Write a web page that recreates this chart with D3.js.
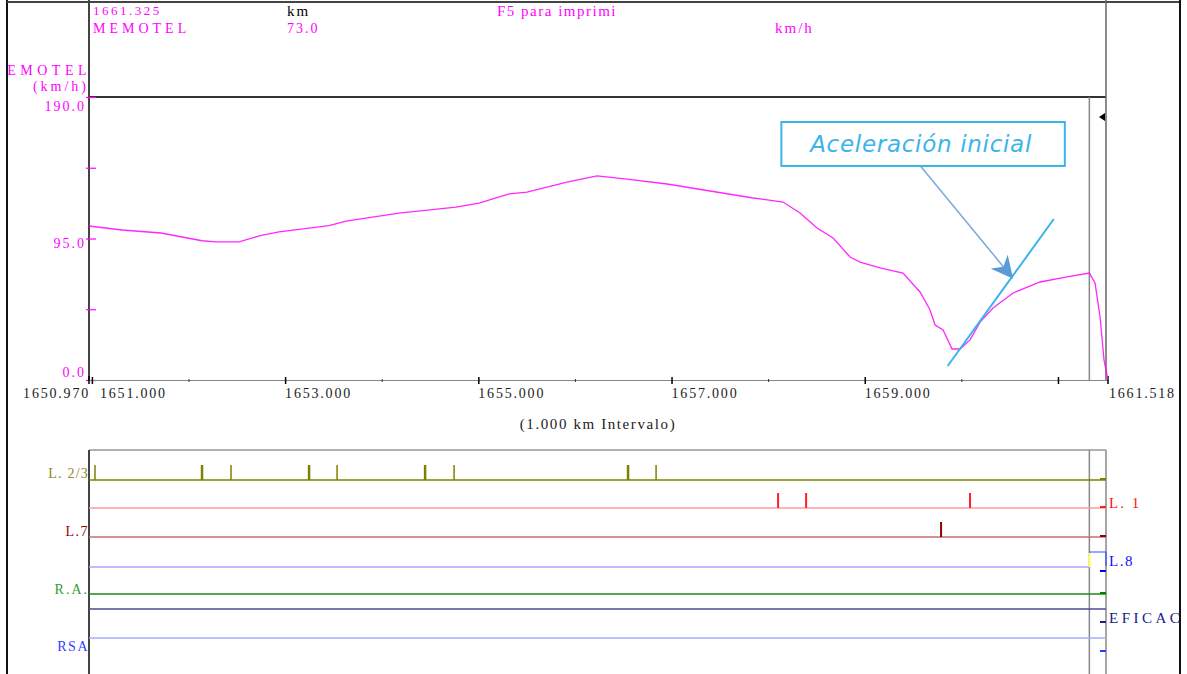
<!DOCTYPE html>
<html><head><meta charset="utf-8">
<script src="https://cdn.jsdelivr.net/npm/d3@7"></script>
<style>
body{margin:0;background:#fff}
svg{display:block;background:#fff}
text{font-family:"Liberation Serif","DejaVu Serif",serif}
</style>
</head><body>
<svg id="c" width="1187" height="674"></svg>
<script>
// ---------- DATA ----------
const kmDomain = [1650.970, 1661.518];
const speedDomain = [0, 190];
const km = [1650.970,1651.312,1651.715,1651.933,1652.140,1652.285,1652.523,1652.730,1652.937,1653.454,1653.630,1654.179,1654.769,1655.007,1655.142,1655.318,1655.504,1655.918,1656.229,1656.540,1656.954,1657.399,1657.844,1658.154,1658.330,1658.506,1658.672,1658.848,1658.951,1659.158,1659.396,1659.572,1659.676,1659.728,1659.811,1659.904,1659.987,1660.090,1660.194,1660.328,1660.535,1660.815,1661.094,1661.325,1661.384,1661.436,1661.477,1661.518];
const speed = [103.4,100.7,98.7,96.0,93.5,92.7,92.7,96.7,99.4,103.6,106.7,112.1,116.1,118.8,121.5,124.9,126.2,132.9,137.0,134.9,131.6,126.9,122.2,119.5,112.1,102.1,95.3,82.6,79.2,75.2,71.8,59.1,47.0,36.9,33.6,20.8,20.8,26.9,38.9,48.3,58.4,65.8,69.2,71.8,65.1,42.3,13.4,0];
const yTicks = [0, 47.5, 95, 142.5, 190];
const yTickLabels = ["0.0", "", "95.0", "", "190.0"];
const xMajor = [1651, 1653, 1655, 1657, 1659, 1661];
const xMajorLabels = ["1651.000", "1653.000", "1655.000", "1657.000", "1659.000", ""];
const xMinor = [1652, 1654, 1656, 1658, 1660];
const cursorKm = 1661.325;
const headerTexts = ["1661.325", "km", "F5 para imprimi", "MEMOTEL", "73.0", "km/h"];
const intervalLabel = "(1.000 km Intervalo)";
// event rows (lower panel)
const rowNames = ["L. 2/3", "L. 1", "L.7", "L.8", "R.A.", "EFICAC", "RSA"];
const rowSide = ["left", "right", "left", "right", "left", "right", "left"];
const evL23 = [1651.032, 1652.140, 1652.440, 1653.248, 1653.538, 1654.449, 1654.749, 1656.550, 1656.840];
const evL23Thick = [0, 1, 0, 1, 0, 1, 0, 1, 0];
const evL1 = [1658.103, 1658.393, 1660.090];
const evL7 = [1659.790];
const evL8 = [];
const evRA = [];
const evEFICAC = [];
const evRSA = [];
// annotation (in data units)
const annotText = "Aceleración inicial";
const annotBox = [[1658.137, 173.2], [1661.071, 143.7]];
const annotArrow = [[1659.568, 144.3], [1660.522, 69.2]];
const tangentLine = [[1659.858, 9.4], [1660.957, 108.1]];

// ---------- DRAW ----------
const svg = d3.select("#c");
const X0 = 89, X1 = 1108;
const x = d3.scaleLinear().domain(kmDomain).range([X0, X1]);
const y = d3.scaleLinear().domain(speedDomain).range([380, 97]);
const MAG = "#ff00ff";

function txt(xp, yp, s, opts){
  const t = svg.append("text").attr("x",xp).attr("y",yp).text(s)
    .attr("fill",opts.fill||"#000").attr("font-size",opts.size||14).attr("letter-spacing",opts.ls||0);
  if(opts.anchor) t.attr("text-anchor",opts.anchor);
  return t;
}

// outer frame
svg.append("line").attr("x1",7).attr("x2",7).attr("y1",0).attr("y2",674).attr("stroke","#111").attr("stroke-width",2);
svg.append("line").attr("x1",7).attr("x2",1180).attr("y1",2).attr("y2",2).attr("stroke","#444").attr("stroke-width",2);
svg.append("line").attr("x1",1180).attr("x2",1180).attr("y1",0).attr("y2",674).attr("stroke","#111").attr("stroke-width",2);
svg.append("line").attr("x1",X0).attr("x2",X0).attr("y1",0).attr("y2",97).attr("stroke","#444").attr("stroke-width",2);

// header texts
txt(93, 15, headerTexts[0], {fill:MAG, size:13, ls:2.5});
txt(287, 16, headerTexts[1], {fill:"#000", size:15, ls:2});
txt(497, 16, headerTexts[2], {fill:MAG, size:15, ls:1.5});
txt(93, 33, headerTexts[3], {fill:MAG, size:14, ls:4});
txt(287, 33, headerTexts[4], {fill:MAG, size:14, ls:2});
txt(775, 33, headerTexts[5], {fill:MAG, size:15, ls:2});

// y axis title
txt(91, 75, "EMOTEL", {fill:MAG, size:14, ls:4.5, anchor:"end"});
txt(89, 91, "(km/h)", {fill:MAG, size:14, ls:3, anchor:"end"});

// plot frame
svg.append("line").attr("x1",X0).attr("x2",1106).attr("y1",97).attr("y2",97).attr("stroke","#333").attr("stroke-width",2);
svg.append("line").attr("x1",X0).attr("x2",X0).attr("y1",97).attr("y2",381).attr("stroke","#444").attr("stroke-width",2);
svg.append("line").attr("x1",1106).attr("x2",1106).attr("y1",0).attr("y2",380).attr("stroke","#666").attr("stroke-width",1.5);
svg.append("line").attr("x1",x(cursorKm)).attr("x2",x(cursorKm)).attr("y1",97).attr("y2",380).attr("stroke","#888").attr("stroke-width",1.5);
svg.append("path").attr("d",`M1099,117 L1105,113 L1105,121 Z`).attr("fill","#000");

// y axis ticks & labels
const yAxis = svg.append("g").attr("transform",`translate(${X0},0)`)
  .call(d3.axisRight(y).tickValues(yTicks).tickSize(7).tickFormat(""));
yAxis.select(".domain").remove();
yAxis.selectAll(".tick line").attr("stroke",MAG).attr("x1",-3).attr("stroke-width",1.2);
yTicks.forEach((v,i)=>{
  if(!yTickLabels[i]) return;
  txt(86, y(v) + (i===0? -3 : (i===4? 14 : 9)), yTickLabels[i], {fill:MAG, size:14, ls:2, anchor:"end"});
});

// x axis
const xAxis = svg.append("g").attr("transform","translate(0,380)")
  .call(d3.axisBottom(x).tickValues(xMajor).tickSize(4).tickFormat("").tickSizeOuter(0));
xAxis.select(".domain").attr("stroke","#888").attr("stroke-width",1.2);
xAxis.selectAll(".tick line").attr("y1",-3).attr("stroke","#000").attr("stroke-width",1.5);
const xMin = svg.append("g").attr("transform","translate(0,380)")
  .call(d3.axisBottom(x).tickValues(xMinor).tickSize(2).tickFormat("").tickSizeOuter(0));
xMin.select(".domain").remove();
xMin.selectAll(".tick line").attr("y1",-1).attr("stroke","#333");
[kmDomain[0], kmDomain[1]].forEach(v=>{
  svg.append("line").attr("x1",x(v)).attr("x2",x(v)).attr("y1",376).attr("y2",384).attr("stroke","#000").attr("stroke-width",1.5);
});
xMajor.forEach((v,i)=>{
  if(!xMajorLabels[i]) return;
  txt(Math.max(x(v),100), 398, xMajorLabels[i], {fill:"#222", size:14, ls:1.8});
});
txt(x(kmDomain[0])+1, 398, kmDomain[0].toFixed(3), {fill:"#222", size:14, ls:1.8, anchor:"end"});
txt(x(kmDomain[1])+1, 398, kmDomain[1].toFixed(3), {fill:"#222", size:14, ls:1.8});
txt(598, 429, intervalLabel, {fill:"#222", size:15, ls:1.6, anchor:"middle"});

// speed curve
const line = d3.line().x((d,i)=>x(km[i])).y((d,i)=>y(speed[i]));
svg.append("path").datum(speed).attr("d",line).attr("fill","none").attr("stroke",MAG).attr("stroke-width",1.3).attr("stroke-opacity",0.85);

// annotation
const ACC = "#3ab4ea";
svg.append("line").attr("x1",x(tangentLine[0][0])).attr("y1",y(tangentLine[0][1]))
  .attr("x2",x(tangentLine[1][0])).attr("y2",y(tangentLine[1][1])).attr("stroke",ACC).attr("stroke-width",2);
const defs = svg.append("defs");
defs.append("marker").attr("id","arr").attr("viewBox","0 0 10 10").attr("refX",9).attr("refY",5)
  .attr("markerWidth",22).attr("markerHeight",22).attr("orient","auto").attr("markerUnits","userSpaceOnUse")
  .append("path").attr("d","M0,0 L10,5 L0,10 L3,5 Z").attr("fill","#5b9bd5");
svg.append("line").attr("x1",x(annotArrow[0][0])).attr("y1",y(annotArrow[0][1]))
  .attr("x2",x(annotArrow[1][0])).attr("y2",y(annotArrow[1][1])).attr("stroke","#7aa8dc").attr("stroke-width",1.5)
  .attr("marker-end","url(#arr)");
const bx0 = x(annotBox[0][0]), by0 = y(annotBox[0][1]), bx1 = x(annotBox[1][0]), by1 = y(annotBox[1][1]);
svg.append("rect").attr("x",bx0).attr("y",by0).attr("width",bx1-bx0).attr("height",by1-by0)
  .attr("fill","#fff").attr("stroke",ACC).attr("stroke-width",2);
svg.append("text").attr("x",(bx0+bx1)/2 - 2).attr("y",(by0+by1)/2+8).attr("text-anchor","middle")
  .attr("fill",ACC).attr("font-size",23).attr("font-style","italic").attr("letter-spacing",0.7)
  .style("font-family","'DejaVu Sans',Verdana,sans-serif").text(annotText);

// ---------- lower panel ----------
const PT = 450, PB = 674;
svg.append("line").attr("x1",X0).attr("x2",1106).attr("y1",PT).attr("y2",PT).attr("stroke","#999").attr("stroke-width",1.5);
svg.append("line").attr("x1",X0).attr("x2",X0).attr("y1",PT).attr("y2",PB).attr("stroke","#444").attr("stroke-width",2);
svg.append("line").attr("x1",x(cursorKm)).attr("x2",x(cursorKm)).attr("y1",PT).attr("y2",PB).attr("stroke","#888").attr("stroke-width",1.5);
svg.append("line").attr("x1",1106).attr("x2",1106).attr("y1",PT).attr("y2",PB).attr("stroke","#888").attr("stroke-width",1.5);

const rowBase = {"L. 2/3":480, "L. 1":508, "L.7":537, "L.8":567, "R.A.":594, "EFICAC":609, "RSA":638};
const rowLine = ["#808000","#ff9a9a","#c07070","#a8a8ff","#1a8a1a","#4a4a9a","#a8aaff"];
const rowSpike = ["#808000","#ff2020","#900000","#0000ff","#008000","#202080","#2040ff"];
const rowLabelCol = ["#8a8a20","#ff1010","#a00000","#1010ff","#30a030","#202080","#3040ff"];
const rowEvents = [evL23, evL1, evL7, evL8, evRA, evEFICAC, evRSA];
const rowLabelY = [478, 508, 536, 566, 594, 623, 651];
const rowLabelLS = [1.2, 2, 1.5, 1.5, 2, 3.5, 1.5];
const rowMarkY = [479, 507, 536, 571, 593, 622, 651];
rowNames.forEach((n,i)=>{
  const yb = rowBase[n];
  const lineEnd = (n==="L.8") ? x(cursorKm) : 1106;
  svg.append("line").attr("x1",X0).attr("x2",lineEnd).attr("y1",yb).attr("y2",yb)
    .attr("stroke",rowLine[i]).attr("stroke-width",(i===0||i===4||i===5)?1.6:1.3);
  rowEvents[i].forEach((e,j)=>{
    const w = (i===0) ? (evL23Thick[j] ? 2.5 : 1.5) : 2;
    svg.append("line").attr("x1",x(e)).attr("x2",x(e)).attr("y1",yb-15).attr("y2",yb)
      .attr("stroke",rowSpike[i]).attr("stroke-width",w);
  });
  svg.append("line").attr("x1",1100).attr("x2",1106).attr("y1",rowMarkY[i]).attr("y2",rowMarkY[i])
    .attr("stroke",rowSpike[i]).attr("stroke-width",2);
  if(rowSide[i]==="left") txt(89, rowLabelY[i], n, {fill:rowLabelCol[i], size:14, ls:rowLabelLS[i], anchor:"end"});
  else txt(1109, rowLabelY[i], n, {fill:rowLabelCol[i], size:15, ls:rowLabelLS[i]});
});
svg.append("path").attr("d",`M${x(cursorKm)},552 L1106,552 L1106,566`).attr("fill","none").attr("stroke","#3050ff").attr("stroke-width",1.2);
svg.append("line").attr("x1",x(cursorKm)).attr("x2",x(cursorKm)).attr("y1",553).attr("y2",567).attr("stroke","#ffff60").attr("stroke-width",2);
</script>
</body></html>
